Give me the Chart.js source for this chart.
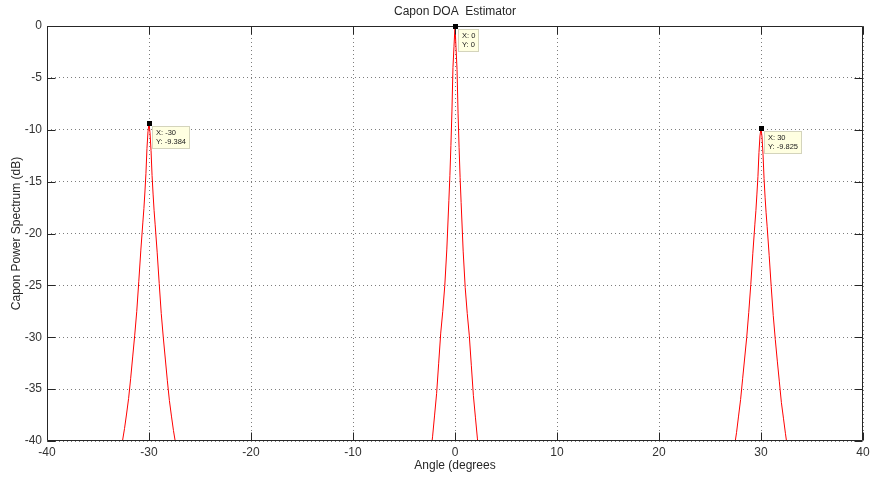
<!DOCTYPE html>
<html>
<head>
<meta charset="utf-8">
<title>Capon DOA Estimator</title>
<script src="https://cdn.jsdelivr.net/npm/chart.js@4.4.1/dist/chart.umd.min.js"></script>
<style type="text/css">
html, body { margin: 0; padding: 0; background: #fff; }
#wrap { width: 874px; height: 478px; }
</style>
</head>
<body>
<div id="wrap"><canvas id="capon" width="874" height="478"></canvas></div>

<script type="text/javascript">

// values
var angleDeg = [
  -40,
  -33.4, -33, -32.6, -32.4, -32.2, -32, -31.8, -31.6, -31.4, -31.2, -31, -30.8, -30.6, -30.5, -30.4, -30.3, -30.2, -30.1,
  -30,
  -29.9, -29.8, -29.7, -29.6, -29.5, -29.4, -29.2, -29, -28.8, -28.6, -28.4, -28.2, -28, -27.8, -27.6, -27.4, -27, -26.6,
  -15,
  -3, -2.6, -2.4, -2.2, -2, -1.8, -1.6, -1.4, -1.2, -1, -0.8, -0.6, -0.5, -0.4, -0.3, -0.2, -0.1,
  0,
  0.1, 0.2, 0.3, 0.4, 0.5, 0.6, 0.8, 1, 1.2, 1.4, 1.6, 1.8, 2, 2.2, 2.4, 2.6, 3,
  15,
  26.6, 27, 27.4, 27.6, 27.8, 28, 28.2, 28.4, 28.6, 28.8, 29, 29.2, 29.4, 29.5, 29.6, 29.7, 29.8, 29.9,
  30,
  30.1, 30.2, 30.3, 30.4, 30.5, 30.6, 30.8, 31, 31.2, 31.4, 31.6, 31.8, 32, 32.2, 32.4, 32.6, 33, 33.4,
  40
];

var powerDb = [
  -58,
  -46, -43, -40, -38.8, -37.4, -35.9, -34, -31.9, -29.8, -27.5, -24.6, -21.6, -18.9, -17.6, -16, -14.2, -11.8, -10.2,
  -9.384,
  -10.3, -12, -14.4, -16.2, -17.8, -19.1, -21.8, -24.8, -27.7, -30, -32.1, -34.2, -36.1, -37.6, -39, -40.2, -43.2, -46.2,
  -58,
  -46, -43, -41.3, -39.6, -37.5, -35.4, -32.5, -29.6, -27.5, -25, -21.5, -16.8, -14.4, -11.5, -8.2, -4, -2,
  0,
  -2.1, -4.2, -8.4, -11.7, -14.6, -17, -21.7, -25.2, -27.7, -29.8, -32.7, -35.6, -37.7, -39.8, -41.5, -43.2, -46.2,
  -58,
  -46, -43.2, -40.5, -39.2, -37.6, -36, -34, -32, -30, -27.6, -24.9, -21.9, -19.1, -17.8, -16.2, -14.5, -12.2, -10.6,
  -9.825,
  -10.7, -12.4, -14.7, -16.5, -18, -19.3, -22.1, -25.1, -27.9, -30.2, -32.3, -34.3, -36.3, -37.8, -39.3, -40.7, -43.5, -46.4,
  -58
];

var xTicks = [-40, -30, -20, -10, 0, 10, 20, 30, 40];
var yTicks = [0, -5, -10, -15, -20, -25, -30, -35, -40];

// data cursor tips
var tipX = [-30, 0, 30];
var tipY = [-9.384, 0, -9.825];
var tipXText = ["-30", "0", "30"];
var tipYText = ["-9.384", "0", "-9.825"];

var titleText = "Capon DOA  Estimator";
var xLabel = "Angle (degrees";
var yLabel = "Capon Power Spectrum (dB)";

var ink = "#333333";
var font = "Liberation Sans, Arial, Helvetica, sans-serif";

var points = [];
for (var i = 0; i < angleDeg.length; i++) {
  points.push({ x: angleDeg[i], y: powerDb[i] });
}

var matlabAxes = {
  id: "matlabAxes",
  afterDraw: function (chart) {
    var c = chart.ctx, a = chart.chartArea;
    var xs = chart.scales.x, ys = chart.scales.y;
    var L = Math.round(a.left) + 0.5, R = Math.round(a.right) - 0.5;
    var T = Math.round(a.top) + 0.5, B = Math.round(a.bottom) - 0.5;
    c.save();
    c.strokeStyle = "#262626";
    c.lineWidth = 1;
    c.beginPath();
    c.rect(L, T, R - L, B - T);
    // inward ticks
    xTicks.forEach(function (v) {
      var px = Math.round(xs.getPixelForValue(v)) + 0.5;
      c.moveTo(px, B); c.lineTo(px, B - 8);
      c.moveTo(px, T); c.lineTo(px, T + 8);
    });
    yTicks.forEach(function (v) {
      var py = Math.round(ys.getPixelForValue(v)) + 0.5;
      c.moveTo(L, py); c.lineTo(L + 8, py);
      c.moveTo(R, py); c.lineTo(R - 8, py);
    });
    c.stroke();

    // title and axis labels
    c.fillStyle = "#262626";
    c.font = "12px " + font;
    c.textAlign = "center";
    c.textBaseline = "middle";
    c.fillText(titleText, (a.left + a.right) / 2, 12);
    c.fillText(xLabel, (a.left + a.right) / 2, 466);
    c.translate(17, (a.top + a.bottom) / 2);
    c.rotate(-Math.PI / 2);
    c.fillText(yLabel, 0, 0);
    c.restore();

    // data tips
    c.save();
    c.font = "7.5px " + font;
    c.textAlign = "left";
    c.textBaseline = "middle";
    for (var k = 0; k < tipX.length; k++) {
      var mx = Math.round(xs.getPixelForValue(tipX[k]));
      var my = Math.round(ys.getPixelForValue(tipY[k]));
      var l1 = "X: " + tipXText[k], l2 = "Y: " + tipYText[k];
      var w = Math.ceil(Math.max(c.measureText(l1).width, c.measureText(l2).width)) + 7;
      var bx = mx + 3, by = my + 3;
      c.fillStyle = "#ffffe1";
      c.fillRect(bx, by, w, 23);
      c.strokeStyle = "#d4d4bc";
      c.lineWidth = 1;
      c.strokeRect(bx + 0.5, by + 0.5, w - 1, 22);
      c.fillStyle = "#1a1a1a";
      c.fillText(l1, bx + 4, by + 7);
      c.fillText(l2, bx + 4, by + 16);
      c.fillStyle = "#000";
      c.fillRect(mx - 2, my - 2, 5, 5);
    }
    c.restore();
  }
};

var ctx = document.getElementById("capon").getContext("2d");
window.capon = new Chart(ctx, {
  type: "line",
  data: {
    datasets: [{
      data: points,
      borderColor: "#ff0000",
      borderWidth: 1,
      pointRadius: 0,
      tension: 0,
      fill: false,
      clip: 0
    }]
  },
  options: {
    responsive: false,
    animation: false,
    events: [],
    layout: { padding: { left: 0, right: 11, top: 26, bottom: 0 } },
    plugins: {
      legend: { display: false },
      tooltip: { enabled: false },
      title: { display: false }
    },
    scales: {
      x: {
        type: "linear",
        min: -40,
        max: 40,
        afterBuildTicks: function (s) { s.ticks = xTicks.map(function (v) { return { value: v }; }); },
        afterFit: function (s) { s.height = 37; },
        ticks: { color: ink, padding: 4, font: { family: font, size: 12 }, maxRotation: 0 },
        grid: { color: "rgba(70,70,70,0.7)", lineWidth: 1, drawTicks: false },
        border: { display: false, dash: [1, 3] }
      },
      y: {
        type: "linear",
        min: -40,
        max: 0,
        afterBuildTicks: function (s) { s.ticks = yTicks.map(function (v) { return { value: v }; }); },
        afterFit: function (s) { s.width = 47; },
        ticks: { color: ink, padding: 5, font: { family: font, size: 12 } },
        grid: { color: "rgba(70,70,70,0.7)", lineWidth: 1, drawTicks: false },
        border: { display: false, dash: [1, 3] }
      }
    }
  },
  plugins: [matlabAxes]
});

</script>
</body>
</html>
